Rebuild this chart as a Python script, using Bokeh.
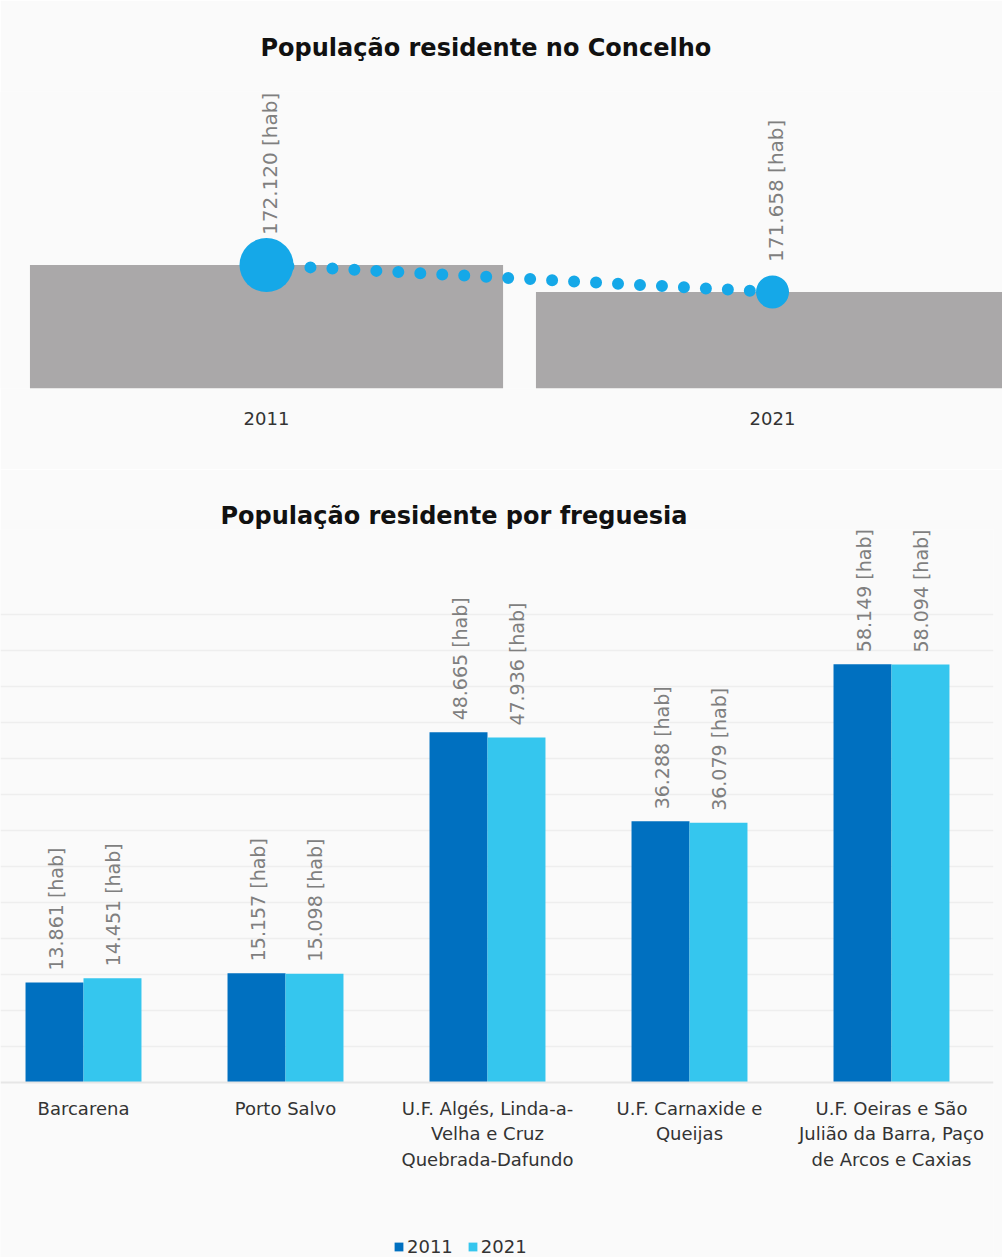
import math
from bokeh.plotting import figure
from bokeh.models import ColumnDataSource, Range1d, FixedTicker, Legend, LegendItem
from bokeh.layouts import column
from bokeh.transform import dodge
from bokeh.embed import file_html
from bokeh.resources import INLINE
from bokeh.core.properties import value

FONT = "DejaVu Sans"

# ---- data: top chart ----
years = ["2011", "2021"]
concelho_pop = [172120, 171658]

# ---- data: bottom chart ----
freguesias = [
    "Barcarena",
    "Porto Salvo",
    "U.F. Algés, Linda-a-\nVelha e Cruz\nQuebrada-Dafundo",
    "U.F. Carnaxide e\nQueijas",
    "U.F. Oeiras e São\nJulião da Barra, Paço\nde Arcos e Caxias",
]
pop_2011 = [13861, 15157, 48665, 36288, 58149]
pop_2021 = [14451, 15098, 47936, 36079, 58094]
series_names = ["2011", "2021"]


def fmt(v):
    return f"{v:,}".replace(",", ".") + " [hab]"


BG = "#fafafa"
C2011 = "#0070c0"
C2021 = "#35c6ee"
CDOT = "#15a8e8"
GREY = "#aaa8a9"
LABEL_GREY = "#7f7f7f"

# =========================== top chart ===========================
marker_sizes = [54, 33]
src1 = ColumnDataSource(dict(
    idx=list(range(len(years))),
    pop=concelho_pop,
    label=[fmt(v) for v in concelho_pop],
    size=marker_sizes,
))

p1 = figure(frame_width=1002, frame_height=297, x_range=Range1d(-0.5257, 1.4545),
            y_range=Range1d(170000, 175100), output_backend="svg",
            toolbar_location=None, min_border_left=0, min_border_right=0,
            min_border_top=91, min_border_bottom=81)
p1.title.text = "População residente no Concelho"
p1.title.align = "left"
p1.title.offset = 260
p1.title.text_font = FONT
p1.title.text_font_size = "24px"
p1.title.text_font_style = "bold"
p1.title.text_color = "#111111"
p1.title.standoff = 60

p1.vbar(x="idx", top="pop", bottom=p1.y_range.start, width=0.935,
        source=src1, fill_color=GREY, line_color=None)
p1.line(x="idx", y="pop", source=src1, line_color=CDOT, line_width=12,
        line_dash="0 22", line_cap="round")
p1.scatter(x="idx", y="pop", size="size", source=src1, fill_color=CDOT,
           line_color=None)
p1.text(x="idx", y="pop", text="label", source=src1, angle=math.pi / 2,
        text_align="left", text_baseline="middle", x_offset=3, y_offset=-30,
        text_font=value(FONT), text_font_size="20px", text_color=LABEL_GREY)

p1.yaxis.visible = False
p1.xgrid.visible = False
p1.ygrid.ticker = FixedTicker(ticks=[p1.y_range.end])
p1.ygrid.grid_line_color = "#efefef"
p1.ygrid.grid_line_width = 5
p1.xaxis.ticker = FixedTicker(ticks=list(range(len(years))))
p1.xaxis.major_label_overrides = {i: y for i, y in enumerate(years)}
p1.xaxis.axis_line_color = None
p1.xaxis.major_tick_line_color = None
p1.xaxis.minor_tick_line_color = None
p1.xaxis.major_label_text_font = FONT
p1.xaxis.major_label_text_font_size = "18px"
p1.xaxis.major_label_text_color = "#333333"
p1.xaxis.major_label_standoff = 17
p1.background_fill_color = BG
p1.border_fill_color = BG
p1.outline_line_color = None

# =========================== bottom chart ===========================
src2 = ColumnDataSource(dict(
    idx=list(range(len(freguesias))),
    p2011=pop_2011,
    p2021=pop_2021,
    l2011=[fmt(v) for v in pop_2011],
    l2021=[fmt(v) for v in pop_2021],
))

p2 = figure(frame_width=993, frame_height=728, x_range=Range1d(-0.4109, 4.505),
            y_range=Range1d(-24373, 76880), output_backend="svg",
            toolbar_location=None, min_border_left=0, min_border_right=9,
            min_border_top=60, min_border_bottom=0)
p2.title.text = "População residente por freguesia"
p2.title.align = "left"
p2.title.offset = 220
p2.title.text_font = FONT
p2.title.text_font_size = "24px"
p2.title.text_font_style = "bold"
p2.title.text_color = "#111111"
p2.title.standoff = 0

BW = 0.287
r1 = p2.vbar(x=dodge("idx", -BW / 2), top="p2011", width=BW, source=src2,
             fill_color=C2011, line_color=None)
r2 = p2.vbar(x=dodge("idx", BW / 2), top="p2021", width=BW, source=src2,
             fill_color=C2021, line_color=None)
for col, off in (("p2011", -BW / 2), ("p2021", BW / 2)):
    p2.text(x=dodge("idx", off), y=col, text="l" + col[1:], source=src2,
            angle=math.pi / 2, text_align="left", text_baseline="middle",
            x_offset=1, y_offset=-12, text_font=value(FONT),
            text_font_size="19px", text_color=LABEL_GREY)

p2.yaxis.visible = False
p2.xgrid.visible = False
p2.ygrid.ticker = FixedTicker(ticks=[5000 * k for k in range(1, 14)])
p2.ygrid.grid_line_color = "#eeeeee"
p2.ygrid.grid_line_width = 1.5
p2.xaxis.fixed_location = 0
p2.xaxis.ticker = FixedTicker(ticks=list(range(len(freguesias))))
p2.xaxis.major_label_overrides = {i: f for i, f in enumerate(freguesias)}
p2.xaxis.axis_line_color = "#e6e6e6"
p2.xaxis.axis_line_width = 2
p2.xaxis.major_tick_line_color = None
p2.xaxis.minor_tick_line_color = None
p2.xaxis.major_label_text_font = FONT
p2.xaxis.major_label_text_font_size = "18px"
p2.xaxis.major_label_text_color = "#333333"
p2.xaxis.major_label_text_line_height = 1.2
p2.xaxis.major_label_standoff = 10

legend = Legend(items=[LegendItem(label=series_names[0], renderers=[r1]),
                       LegendItem(label=series_names[1], renderers=[r2])],
                orientation="horizontal", location=(393, 0))
legend.label_text_font = FONT
legend.label_text_font_size = "18px"
legend.label_text_color = "#333333"
legend.glyph_width = 11
legend.glyph_height = 11
legend.label_standoff = 3
legend.spacing = 14
legend.padding = 4
legend.margin = 0
legend.border_line_color = None
legend.background_fill_alpha = 0
p2.add_layout(legend, "center")

p2.background_fill_color = BG
p2.border_fill_color = BG
p2.outline_line_color = None

layout = column(p1, p2, spacing=0)
open("out.html", "w").write(file_html(layout, INLINE))
